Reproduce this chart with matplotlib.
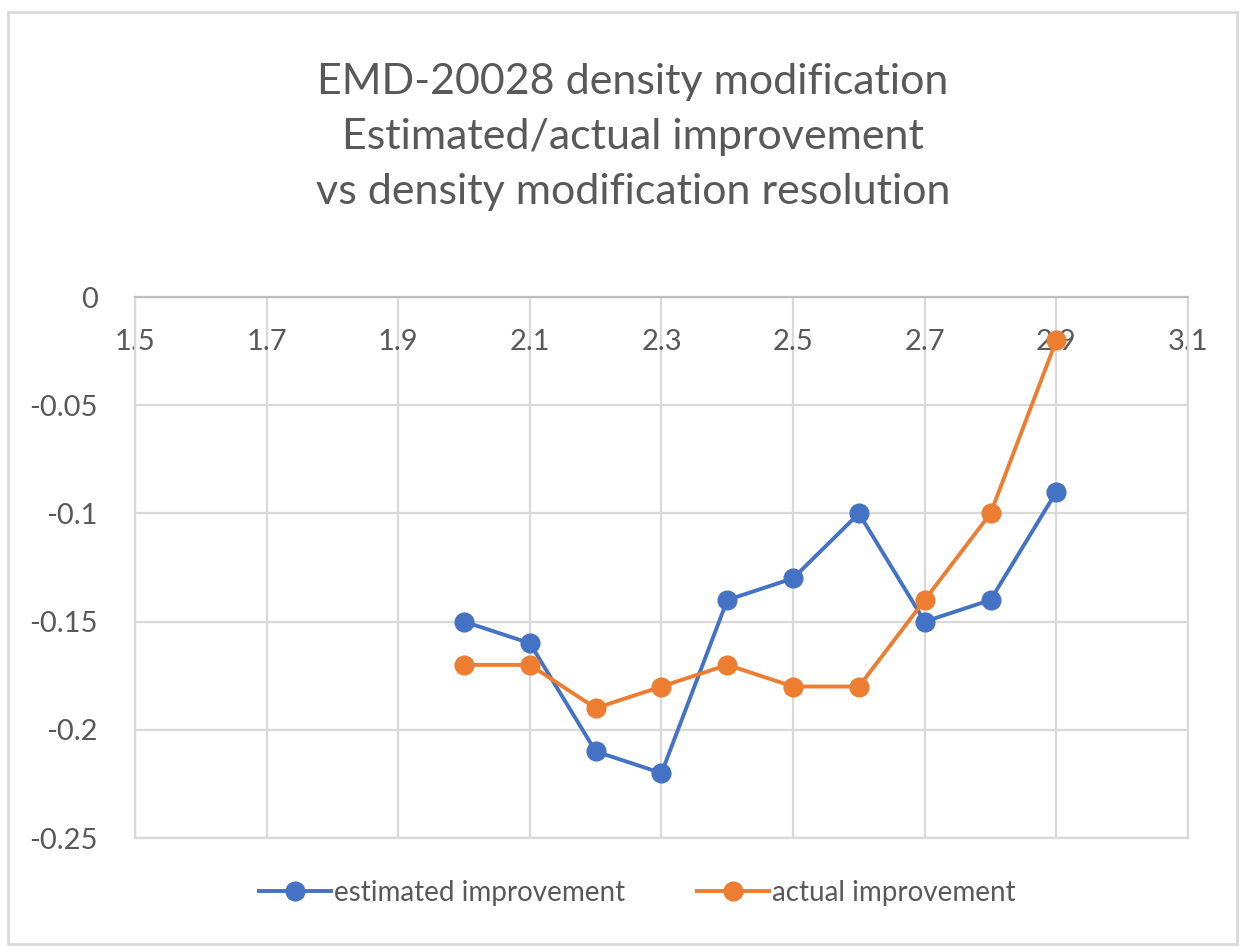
import matplotlib
matplotlib.use("Agg")
import matplotlib.pyplot as plt
import matplotlib.patches as patches

# ================= DATA =================
resolution = [2.0, 2.1, 2.2, 2.3, 2.4, 2.5, 2.6, 2.7, 2.8, 2.9]
estimated = [-0.15, -0.16, -0.21, -0.22, -0.14, -0.13, -0.10, -0.15, -0.14, -0.09]
actual = [-0.17, -0.17, -0.19, -0.18, -0.17, -0.18, -0.18, -0.14, -0.10, -0.02]
x_ticks = [1.5, 1.7, 1.9, 2.1, 2.3, 2.5, 2.7, 2.9, 3.1]
y_ticks = [0, -0.05, -0.1, -0.15, -0.2, -0.25]
title = ("EMD-20028 density modification\n"
         "Estimated/actual improvement\n"
         "vs density modification resolution")

plt.rcParams["font.family"] = ["Lato", "DejaVu Sans"]
TEXT = "#595959"
GRID = "#D9D9D9"

fig = plt.figure(figsize=(12.44, 9.47), dpi=100)
ax = fig.add_axes([135 / 1244, 1 - 838 / 947, 1053 / 1244, 541 / 947])

# outer chart frame
fig.patches.append(patches.Rectangle(
    (8 / 1244, 3 / 947), 1229 / 1244, 932 / 947,
    transform=fig.transFigure, facecolor="none",
    edgecolor=GRID, linewidth=2))

ax.plot(resolution, estimated, color="#4472C4", linewidth=2.8,
        marker="o", markersize=13.5, label="estimated improvement", zorder=3)
ax.plot(resolution, actual, color="#ED7D31", linewidth=2.8,
        marker="o", markersize=13.5, label="actual improvement", zorder=4)

ax.set_xlim(1.5, 3.1)
ax.set_ylim(-0.25, 0)
ax.set_xticks(x_ticks)
ax.set_xticklabels([str(v) for v in x_ticks])
ax.set_yticks(y_ticks)
ax.set_yticklabels(["0", "-0.05", "-0.1", "-0.15", "-0.2", "-0.25"])

ax.grid(True, color=GRID, linewidth=1.6)
ax.set_axisbelow(True)
for side in ["left", "right", "bottom"]:
    ax.spines[side].set_color(GRID)
    ax.spines[side].set_linewidth(1.6)
ax.spines["top"].set_color("#BFBFBF")
ax.spines["top"].set_linewidth(1.6)

ax.tick_params(axis="x", top=True, labeltop=True, bottom=False,
               labelbottom=False, length=0, pad=-42, labelsize=21,
               labelcolor=TEXT)
ax.tick_params(axis="y", length=0, pad=27, labelsize=21, labelcolor=TEXT)

fig.text(633 / 1244, 1 - 137 / 947, title, ha="center", va="center",
         fontsize=31, color=TEXT, linespacing=1.55)

ax.legend(loc="center", bbox_to_anchor=(637 / 1244, 1 - 893 / 947),
          bbox_transform=fig.transFigure, ncol=2, frameon=False,
          fontsize=20, labelcolor=TEXT, handlelength=2.6,
          handletextpad=0.1, columnspacing=2.6)

fig.savefig("out.png", dpi=100)
